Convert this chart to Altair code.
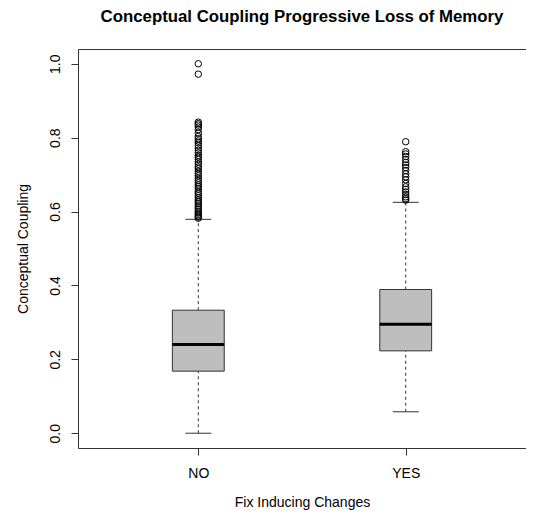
import altair as alt
import pandas as pd

groups = ["NO", "YES"]
group_pos = [1, 2]
q1 = [0.168, 0.223]
median = [0.240, 0.295]
q3 = [0.333, 0.389]
whisker_lo = [0.0, 0.058]
whisker_hi = [0.579, 0.625]

no_outliers = [1.0, 0.972, 0.842, 0.838, 0.834, 0.829, 0.822, 0.812, 0.803, 0.797,
               0.791, 0.786, 0.779, 0.772, 0.766, 0.759, 0.752, 0.747, 0.741, 0.734,
               0.728, 0.721, 0.716, 0.709, 0.703, 0.697, 0.690, 0.684, 0.678, 0.672,
               0.667, 0.661, 0.654, 0.649, 0.643, 0.637, 0.631, 0.626, 0.621, 0.615,
               0.610, 0.605, 0.600, 0.596, 0.592, 0.588, 0.585, 0.582]
yes_outliers = [0.789, 0.762, 0.756, 0.749, 0.741, 0.733, 0.726, 0.719, 0.711, 0.702,
                0.694, 0.686, 0.676, 0.667, 0.660, 0.653, 0.646, 0.640, 0.635, 0.631]

stats = pd.DataFrame({"group": groups, "pos": group_pos, "q1": q1, "med": median,
                      "q3": q3, "lo": whisker_lo, "hi": whisker_hi})
outl = pd.DataFrame({
    "pos": [1] * len(no_outliers) + [2] * len(yes_outliers),
    "value": no_outliers + yes_outliers,
})

xscale = alt.Scale(domain=[0.42, 2.58], nice=False, zero=False)
yscale = alt.Scale(domain=[-0.04, 1.04], nice=False, zero=False)

xaxis = alt.Axis(values=[1, 2], labelExpr="datum.value == 1 ? 'NO' : 'YES'",
                 title="Fix Inducing Changes", grid=False, domain=False,
                 tickSize=7, tickColor="#333", labelPadding=11, titlePadding=15,
                 labelFontSize=14, titleFontSize=14, titleFontWeight="normal",
                 labelColor="black", titleColor="black", labelFont="Liberation Sans",
                 titleFont="Liberation Sans")
yaxis = alt.Axis(values=[0, 0.2, 0.4, 0.6, 0.8, 1.0], format=".1f",
                 title="Conceptual Coupling", grid=False, domain=False,
                 tickSize=7, tickColor="#333", labelAngle=270, labelPadding=9,
                 titlePadding=18, labelFontSize=14, titleFontSize=14,
                 titleFontWeight="normal", labelColor="black", titleColor="black",
                 labelFont="Liberation Sans", titleFont="Liberation Sans")

base = alt.Chart(stats).transform_calculate(
    xl="datum.pos - 0.125", xr="datum.pos + 0.125",
    cl="datum.pos - 0.0625", cr="datum.pos + 0.0625")

whisk_lo = base.mark_rule(color="#333", strokeDash=[3, 3], strokeWidth=1).encode(
    x=alt.X("pos:Q", scale=xscale, axis=xaxis),
    y=alt.Y("lo:Q", scale=yscale, axis=yaxis), y2="q1:Q")
whisk_hi = base.mark_rule(color="#333", strokeDash=[3, 3], strokeWidth=1).encode(
    x="pos:Q", y="q3:Q", y2="hi:Q")
cap_lo = base.mark_rule(color="#333", strokeWidth=1).encode(
    x="cl:Q", x2="cr:Q", y="lo:Q")
cap_hi = base.mark_rule(color="#333", strokeWidth=1).encode(
    x="cl:Q", x2="cr:Q", y="hi:Q")
box = base.mark_rect(fill="#BEBEBE", stroke="#333", strokeWidth=1).encode(
    x="xl:Q", x2="xr:Q", y="q1:Q", y2="q3:Q")
med = base.mark_rule(color="black", strokeWidth=3).encode(
    x="xl:Q", x2="xr:Q", y="med:Q")
pts = alt.Chart(outl).mark_point(shape="circle", filled=False, color="black",
                                 strokeWidth=1, size=42, opacity=1).encode(
    x="pos:Q", y="value:Q")

chart = alt.layer(whisk_lo, whisk_hi, cap_lo, cap_hi, box, med, pts).properties(
    width=448, height=399,
    title=alt.TitleParams("Conceptual Coupling Progressive Loss of Memory",
                          fontSize=16.8, fontWeight="bold", font="Liberation Sans",
                          color="black", anchor="middle", baseline="alphabetic",
                          offset=10),
    autosize=alt.AutoSizeParams(type="none"),
    padding={"left": 70, "top": 41, "right": 0, "bottom": 63},
    background="white",
).configure_view(stroke="#333", strokeWidth=1)

chart.save("out.html", embed_options={"renderer": "svg", "actions": False})
